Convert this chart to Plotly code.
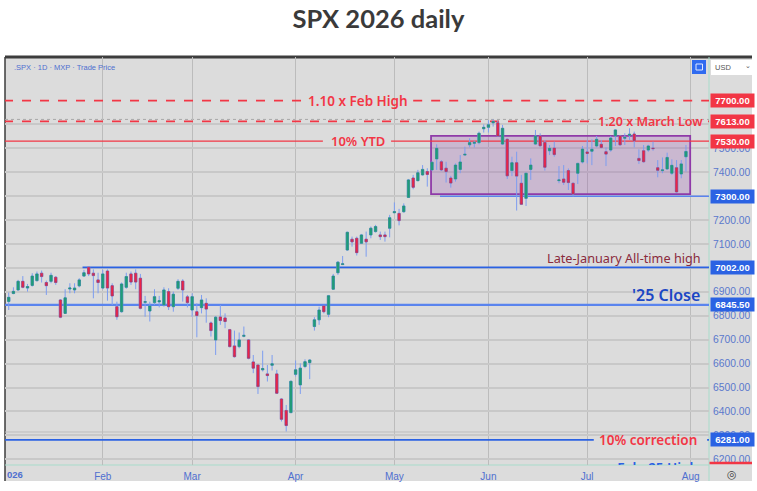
import plotly.graph_objects as go

# SPX daily candles, trading day index 0 = Jan 2 2026
opens = [6860,6893,6908,6944,6916,6927,6947,6978,6939,6944,6961,6866,6810,6912,6908,6925,6966,7003,6978,6950,
         6916,6987,6926,6838,6817,6919,6975,6978,6957,6856,6820,6855,6858,6845,6901,6838,6915,6945,6879,6824,
         6817,6834,6852,6770,6699,6795,6791,6742,6674,6671,6714,6699,6607,6594,6574,6557,6593,6557,6452,6404,
         6395,6555,6511,6588,6604,6755,6783,6841,6806,6911,6980,7014,7075,7120,7124,7103,7120,7138,7152,7138,
         7138,7166,7231,7228,7235,7295,7376,7365,7389,7403,7410,7456,7444,7417,7376,7372,7412,7472,7515,7521,
         7524,7582,7588,7607,7607,7518,7538,7407,7440,7354,7291,7412,7518,7552,7525,7490,7501,7365,7372,7407,
         7354,7396,7443,7485,7488,7510,7517,7486,7493,7552,7552,7542,7554,7560,7458,7490,7493,7501,7419,7407,
         7414,7396,7419,7393,7465]
highs = [6897,6919,6950,6966,6933,6978,6985,6989,6947,6980,6966,6870,6911,6936,6936,6957,6992,7008,6994,6980,
         6992,6994,6936,6859,6939,6980,6985,6994,6975,6883,6859,6911,6883,6919,6915,6901,6953,6953,6887,6894,
         6852,6887,6873,6776,6799,6845,6810,6745,6738,6730,6755,6702,6636,6594,6654,6594,6636,6574,6455,6427,
         6529,6613,6601,6618,6618,6794,6838,6845,6887,6975,7029,7050,7152,7131,7131,7142,7152,7173,7180,7152,
         7152,7222,7274,7247,7270,7372,7389,7410,7430,7417,7444,7517,7451,7444,7385,7437,7472,7507,7542,7532,
         7570,7600,7618,7621,7616,7598,7542,7465,7486,7389,7396,7458,7577,7563,7535,7514,7528,7426,7430,7416,
         7357,7440,7510,7535,7538,7552,7535,7504,7552,7579,7556,7563,7584,7570,7496,7514,7515,7528,7451,7462,
         7482,7454,7451,7451,7514]
lows = [6824,6890,6905,6915,6901,6922,6943,6939,6887,6936,6929,6790,6808,6894,6894,6919,6964,6966,6873,6894,
        6911,6863,6845,6783,6813,6913,6929,6911,6827,6796,6776,6845,6835,6838,6824,6817,6908,6859,6835,6796,
        6710,6810,6771,6713,6636,6762,6748,6668,6625,6664,6710,6618,6560,6473,6567,6525,6571,6473,6358,6316,
        6393,6546,6473,6581,6535,6738,6762,6810,6794,6908,6971,7013,7072,7089,7052,7100,7047,7124,7148,7117,
        7110,7128,7228,7178,7231,7295,7329,7362,7386,7340,7407,7410,7405,7357,7336,7361,7396,7472,7504,7504,
        7517,7566,7566,7591,7549,7514,7372,7384,7240,7263,7259,7368,7514,7507,7407,7472,7465,7354,7347,7326,
        7298,7351,7437,7437,7430,7504,7500,7426,7486,7510,7510,7514,7535,7504,7435,7440,7486,7490,7379,7396,
        7410,7389,7315,7375,7403]
closes = [6877,6902,6944,6919,6922,6966,6975,6964,6926,6969,6939,6794,6875,6916,6916,6950,6980,6975,6968,6939,
          6975,6916,6883,6796,6933,6964,6941,6941,6831,6859,6841,6880,6863,6908,6838,6890,6944,6908,6855,6880,
          6801,6866,6828,6738,6794,6780,6776,6671,6629,6699,6718,6622,6581,6504,6579,6550,6599,6476,6367,6341,
          6526,6574,6581,6608,6615,6783,6824,6817,6884,6966,7024,7017,7149,7109,7064,7138,7109,7166,7173,7131,
          7131,7210,7235,7198,7259,7368,7337,7398,7412,7391,7442,7500,7410,7403,7355,7430,7443,7475,7524,7525,
          7563,7588,7599,7612,7552,7584,7385,7440,7384,7266,7396,7430,7552,7511,7421,7500,7474,7368,7358,7357,
          7309,7437,7497,7479,7496,7538,7504,7476,7543,7577,7515,7546,7559,7532,7449,7444,7510,7499,7408,7410,
          7462,7429,7318,7435,7487]

# axis ticks
month_idx = [20, 39, 61, 82, 102, 123, 145]
month_labels = ["Feb", "Mar", "Apr", "May", "Jun", "Jul", "Aug"]
price_ticks = [6200, 6300, 6400, 6500, 6600, 6700, 6800, 6900, 7000, 7100, 7200, 7300, 7400, 7500, 7600]

# horizontal levels drawn on the chart
RED = "#f23645"
BLUE = "#2b62e3"
LIGHT_BLUE = "#5a84ee"
levels = [7700, 7613, 7530, 7300, 7002, 6845.5, 6281]
level_colors = [RED, RED, RED, LIGHT_BLUE, BLUE, LIGHT_BLUE, BLUE]
level_width = [1.8, 1.8, 1.3, 1.6, 1.8, 2.2, 1.8]
level_dash = ["dash", "dash", "solid", "solid", "solid", "solid", "solid"]
level_start = [-1, -1, -1, 91.7, 15.7, -1, -1]
# where the line breaks for its label
level_gap_from = [62.8, 123.8, 66.8, None, None, None, 124.4]
level_gap_to = [86, 148.7, 81.3, None, None, None, 148.5]

BG = "#dcdcdc"
PLOT_L, PLOT_R, PLOT_T, PLOT_B = 5, 709, 57, 465
W, H = 757, 491


def px_x(px):
    return (px - PLOT_L) / (PLOT_R - PLOT_L)


def px_y(px):
    return 1 - (px - PLOT_T) / (PLOT_B - PLOT_T)


fig = go.Figure()
idx = list(range(len(opens)))

# wicks first, bodies drawn on top so the two can have different colours
fig.add_trace(go.Candlestick(
    x=idx, open=opens, high=highs, low=lows, close=closes,
    increasing=dict(line=dict(color="#7d9df0", width=1), fillcolor="#7d9df0"),
    decreasing=dict(line=dict(color="#7d9df0", width=1), fillcolor="#7d9df0"),
    whiskerwidth=0, hoverinfo="skip", showlegend=False))
fig.add_trace(go.Candlestick(
    x=idx, open=opens, close=closes,
    high=[max(o, c) for o, c in zip(opens, closes)],
    low=[min(o, c) for o, c in zip(opens, closes)],
    increasing=dict(line=dict(color="#2a8f80", width=0.6), fillcolor="#1f9e78"),
    decreasing=dict(line=dict(color="#a33a6a", width=0.6), fillcolor="#ee2347"),
    whiskerwidth=0, showlegend=False))

# clipped label at the very bottom of the pane
fig.add_trace(go.Scatter(
    x=[138], y=[6156], mode="text", text=["Feb. 25 High"],
    textfont=dict(family="Noto Sans", size=13.5, color=BLUE, weight=600),
    cliponaxis=True, showlegend=False, hoverinfo="skip"))

shapes = []
# pane background, including the axis strips
shapes.append(dict(type="rect", xref="paper", yref="paper", layer="below",
                   x0=0, x1=px_x(752), y0=px_y(481), y1=1,
                   fillcolor=BG, line=dict(width=0)))
shapes.append(dict(type="line", xref="paper", yref="paper", layer="below",
                   x0=0, x1=px_x(752), y0=1.0, y1=1.0,
                   line=dict(color="#3c3c3c", width=3)))
shapes.append(dict(type="line", xref="paper", yref="paper", layer="below",
                   x0=0, x1=0, y0=px_y(481), y1=1.0,
                   line=dict(color="#3c3c3c", width=1.5)))
# axis borders
shapes.append(dict(type="line", xref="paper", yref="paper", layer="between",
                   x0=1, x1=1, y0=px_y(481), y1=1,
                   line=dict(color="#a8dccb", width=1)))
shapes.append(dict(type="line", xref="paper", yref="paper", layer="between",
                   x0=0, x1=1, y0=0, y1=0,
                   line=dict(color="#a8dccb", width=1)))
# faint extras near the levels
shapes.append(dict(type="line", xref="paper", yref="y", layer="between",
                   x0=0, x1=1, y0=7621, y1=7621,
                   line=dict(color="#a8a8a8", width=1, dash="dot")))
shapes.append(dict(type="line", xref="paper", yref="y", layer="between",
                   x0=0, x1=1, y0=6314, y1=6314,
                   line=dict(color="#bdbdbd", width=1)))
# consolidation box
shapes.append(dict(type="rect", xref="x", yref="y", layer="between",
                   x0=89.8, x1=144.9, y0=7309, y1=7552,
                   fillcolor="rgba(140,60,170,0.22)",
                   line=dict(color="#8f3aa8", width=1.8)))
for i, lvl in enumerate(levels):
    style = dict(color=level_colors[i], width=level_width[i], dash=level_dash[i])
    segments = [(level_start[i], 149)]
    if level_gap_from[i] is not None:
        segments = [(level_start[i], level_gap_from[i]), (level_gap_to[i], 149)]
    for x0, x1 in segments:
        shapes.append(dict(type="line", xref="x", yref="y", layer="between",
                           x0=x0, x1=x1, y0=lvl, y1=lvl, line=style))
# strip of the level that sits below the axis range
shapes.append(dict(type="rect", xref="paper", yref="paper",
                   x0=px_x(709.5), x1=px_x(752), y0=px_y(464.3), y1=px_y(461.7),
                   fillcolor=RED, line=dict(width=0)))
# interval / scale widgets
shapes.append(dict(type="rect", xref="paper", yref="paper",
                   x0=px_x(692), x1=px_x(706), y0=px_y(74), y1=px_y(60),
                   fillcolor="#2f6bf0", line=dict(width=0)))
shapes.append(dict(type="rect", xref="paper", yref="paper",
                   x0=px_x(696), x1=px_x(702.5), y0=px_y(70), y1=px_y(64),
                   fillcolor="rgba(0,0,0,0)", line=dict(color="#dfe8ff", width=1)))
shapes.append(dict(type="rect", xref="paper", yref="paper",
                   x0=px_x(711), x1=px_x(752), y0=px_y(75), y1=px_y(60),
                   fillcolor="#ffffff", line=dict(width=0)))

annotations = []


def line_label(text, x, y, color, size):
    annotations.append(dict(
        x=x, y=y, xref="x", yref="y", text=text, showarrow=False,
        font=dict(family="Noto Sans", size=size, color=color, weight=600)))


line_label("1.10 x Feb High", 74.3, 7700, RED, 13.5)
line_label("1.20 x March Low", 136.4, 7613, RED, 12.5)
line_label("10% YTD", 74.2, 7530, RED, 13)
line_label("10% correction", 136, 6281, RED, 13.5)


def side_text(text, x_px, y, color, size, shift=-2, weight=400):
    annotations.append(dict(
        x=px_x(x_px), y=y, xref="paper", yref="y", text=text, showarrow=False,
        xanchor="right", yanchor="bottom", yshift=shift,
        font=dict(family="Noto Sans", size=size, color=color, weight=weight)))


side_text("Late-January All-time high", 703, 7002, "#8a2b3c", 12.7)
side_text("'25 Close", 702, 6845.5, "#1b47c4", 16, shift=-3, weight=600)

# price tags on the axis
tag_prices = [7700, 7613, 7530, 7300, 7002, 6845.5, 6281]
tag_colors = [RED, RED, RED, BLUE, BLUE, BLUE, BLUE]
for price, col in zip(tag_prices, tag_colors):
    annotations.append(dict(
        x=px_x(709.5), y=price, xref="paper", yref="y", xanchor="left", yanchor="middle",
        text=f"<b>{price:.2f}</b>", showarrow=False, width=41, height=11, align="center",
        font=dict(family="Liberation Sans", size=9.5, color="#ffffff"),
        bgcolor=col, borderpad=1))


def pane_text(text, x_px, y_px, size, color, family="Liberation Sans", anchor="left"):
    annotations.append(dict(
        x=px_x(x_px), y=px_y(y_px), xref="paper", yref="paper",
        xanchor=anchor, yanchor="middle", text=text, showarrow=False,
        font=dict(family=family, size=size, color=color)))


pane_text(".SPX · 1D · MXP · Trade Price", 12, 67, 7.5, "#4f6fd0")
pane_text("USD", 713, 67.5, 7.5, "#555555")
pane_text("⌄", 748, 66, 7, "#555555", family="DejaVu Sans", anchor="center")
pane_text("◎", 732, 475, 11, "#444444", family="DejaVu Sans", anchor="center")
pane_text("<b>026</b>", 5, 475, 9.5, "#4f6fd0")

fig.update_layout(
    width=W, height=H,
    margin=dict(l=PLOT_L, r=W - PLOT_R, t=PLOT_T, b=H - PLOT_B),
    paper_bgcolor="#ffffff",
    plot_bgcolor="rgba(0,0,0,0)",
    title=dict(text="<b>SPX 2026 daily</b>", x=0.5, xanchor="center", y=0.962, yanchor="middle",
               font=dict(family="Lato", size=25.5, color="#3a3a3a")),
    xaxis=dict(range=[-0.79, 148.9], tickmode="array", tickvals=month_idx, ticktext=month_labels,
               showgrid=True, gridcolor="#bcbcbc", gridwidth=1, zeroline=False, showline=False,
               rangeslider=dict(visible=False), ticks="", ticklen=0, ticklabelstandoff=4,
               tickfont=dict(family="Liberation Sans", size=10, color="#4f6fd0")),
    yaxis=dict(range=[6176, 7882], side="right", tickmode="array", tickvals=price_ticks,
               tickformat=".2f", showgrid=True, gridcolor="#c8c8c8", gridwidth=1.5,
               zeroline=False, showline=False, ticks="", ticklabelstandoff=3,
               tickfont=dict(family="Liberation Sans", size=10.3, color="#5a78cc")),
    shapes=shapes,
    annotations=annotations,
    showlegend=False,
)

fig.write_html("out.html", config={"displayModeBar": False},
               post_script="document.body.style.margin='0';")
